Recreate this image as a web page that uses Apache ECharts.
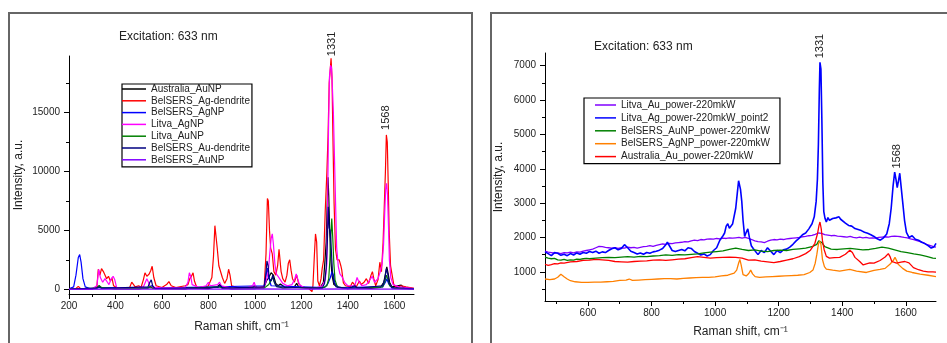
<!DOCTYPE html>
<html><head><meta charset="utf-8">
<script src="https://cdn.jsdelivr.net/npm/echarts@6/dist/echarts.min.js"></script>
<style>html,body{margin:0;padding:0;background:#fff}#c{width:947px;height:343px}</style>
</head><body><div id="c"></div>
<script>
// ---------- LEFT PANEL DATA ----------
const leftNames = ['Australia_AuNP','BelSERS_Ag-dendrite','BelSERS_AgNP','Litva_AgNP','Litva_AuNP','BelSERS_Au-dendrite','BelSERS_AuNP'];
const leftColors = ['#000000','#ff0000','#0000ff','#ff00ff','#008000','#000080','#8000ff'];
const ausAuNP = [[200,30],[300,20],[320,150],[330,300],[340,100],[400,50],[500,40],[550,150],[600,50],[700,40],[720,100],[800,60],[840,250],[850,400],[860,150],[900,40],[1000,50],[1040,200],[1050,700],[1060,1000],[1070,1400],[1080,1200],[1090,500],[1100,300],[1110,450],[1130,150],[1170,200],[1180,500],[1190,150],[1250,60],[1280,100],[1295,600],[1302,2500],[1307,4000],[1311,7000],[1315,9500],[1318,8000],[1322,5000],[1327,2500],[1332,1200],[1340,400],[1360,150],[1400,80],[1430,200],[1450,100],[1500,80],[1540,150],[1555,600],[1562,1300],[1568,1900],[1574,1300],[1580,600],[1590,200],[1630,350],[1640,150],[1685,60]];
const belAgDendrite = [[200,50],[230,80],[240,250],[250,60],[300,50],[320,200],[326,1700],[333,1200],[340,1750],[348,1500],[355,1600],[362,900],[370,1100],[378,700],[385,950],[392,300],[410,80],[460,100],[470,600],[478,500],[485,200],[500,300],[510,150],[520,800],[527,1400],[535,1100],[545,1300],[552,1600],[558,1950],[565,1000],[575,300],[600,150],[620,400],[630,650],[640,300],[660,150],[700,300],[712,400],[720,900],[727,1100],[734,1400],[740,700],[750,150],[790,200],[800,300],[815,1000],[822,2800],[828,5400],[833,5300],[838,3500],[845,2000],[852,1900],[860,1000],[870,500],[880,900],[887,1700],[893,1200],[900,300],[930,100],[990,150],[1000,300],[1010,100],[1040,200],[1048,3000],[1054,7700],[1058,7500],[1063,5000],[1068,3500],[1075,3000],[1082,1500],[1090,1200],[1098,2000],[1104,3400],[1108,3300],[1113,1500],[1120,900],[1130,600],[1138,1200],[1144,2200],[1150,2500],[1156,1600],[1162,900],[1170,600],[1180,1200],[1188,500],[1200,200],[1230,100],[1246,-200],[1250,300],[1256,2800],[1261,4700],[1266,4000],[1271,700],[1278,300],[1285,900],[1290,1800],[1296,2500],[1303,6700],[1310,9900],[1315,13000],[1320,17500],[1324,18500],[1328,19600],[1332,18000],[1336,13000],[1341,7300],[1347,3400],[1354,2500],[1363,2500],[1370,2000],[1374,1650],[1381,550],[1390,300],[1410,200],[1420,600],[1428,500],[1436,200],[1450,700],[1458,400],[1470,600],[1480,900],[1490,500],[1500,1200],[1506,1500],[1512,900],[1520,300],[1530,800],[1538,2300],[1545,1500],[1552,4000],[1557,7000],[1562,10000],[1566,13100],[1570,12500],[1574,9000],[1578,5000],[1584,2000],[1590,1300],[1598,400],[1610,150],[1630,300],[1650,200],[1685,80]];
const belAgNP = [[200,50],[220,200],[230,1200],[240,2700],[246,2950],[252,2300],[260,900],[270,200],[290,60],[330,150],[540,100],[555,300],[565,100],[1040,300],[1048,1200],[1054,1800],[1060,1000],[1070,300],[1300,150],[1315,500],[1325,1000],[1332,1500],[1338,1200],[1345,500],[1360,150],[1550,200],[1562,600],[1568,900],[1575,500],[1590,100],[1685,40]];
const litvaAgNP = [[200,30],[300,40],[320,300],[328,1700],[335,1000],[345,600],[355,900],[362,700],[372,400],[382,900],[390,1100],[397,800],[405,150],[450,60],[520,200],[535,900],[542,600],[550,200],[600,100],[700,150],[712,600],[718,1400],[724,1100],[730,400],[760,150],[790,300],[800,600],[808,300],[840,400],[848,600],[856,300],[900,100],[960,80],[990,300],[997,600],[1004,150],[1040,200],[1050,800],[1058,1500],[1064,3000],[1070,4300],[1075,4700],[1080,3800],[1086,2200],[1092,1300],[1100,1100],[1110,800],[1120,500],[1140,300],[1160,400],[1172,900],[1178,1300],[1184,900],[1192,400],[1210,150],[1260,100],[1290,300],[1303,800],[1310,2200],[1317,13500],[1321,18000],[1326,19000],[1330,18800],[1334,17000],[1338,15000],[1345,9300],[1352,3600],[1359,1950],[1366,1300],[1374,1100],[1388,540],[1400,300],[1430,300],[1440,1000],[1446,700],[1460,300],[1480,400],[1495,800],[1505,1100],[1515,600],[1530,900],[1540,1500],[1548,2200],[1554,3800],[1559,6500],[1563,8500],[1567,9000],[1571,8000],[1575,5500],[1579,2500],[1585,1000],[1595,400],[1620,200],[1650,150],[1685,50]];
const litvaAuNP = [[200,20],[320,100],[330,300],[340,150],[400,40],[540,100],[550,250],[560,80],[700,50],[720,100],[850,200],[860,80],[1040,100],[1060,400],[1070,800],[1076,1000],[1082,700],[1090,300],[1120,100],[1180,150],[1290,100],[1310,300],[1318,900],[1323,2500],[1327,4500],[1331,6000],[1335,4500],[1340,2200],[1345,800],[1355,200],[1400,60],[1550,200],[1560,700],[1566,1200],[1572,900],[1580,300],[1600,80],[1685,30]];
const belAuDendrite = [[200,20],[320,100],[330,200],[340,80],[540,200],[548,600],[554,800],[560,300],[570,60],[840,150],[850,350],[860,100],[1040,200],[1047,1200],[1052,2400],[1057,2000],[1062,900],[1070,700],[1077,1200],[1084,600],[1095,200],[1180,150],[1290,100],[1300,500],[1307,1800],[1312,4000],[1316,7000],[1320,5200],[1324,5000],[1328,3800],[1334,1500],[1340,600],[1350,200],[1400,60],[1430,300],[1440,100],[1550,300],[1560,900],[1566,1750],[1572,1300],[1578,500],[1590,150],[1685,30]];
const belAuNP = [[200,0],[400,20],[600,10],[800,20],[1000,30],[1200,20],[1400,30],[1600,20],[1685,20]];
const leftData = [ausAuNP, belAgDendrite, belAgNP, litvaAgNP, litvaAuNP, belAuDendrite, belAuNP];

// ---------- RIGHT PANEL DATA ----------
const rightNames = ['Litva_Au_power-220mkW','Litva_Ag_power-220mkW_point2','BelSERS_AuNP_power-220mkW','BelSERS_AgNP_power-220mkW','Australia_Au_power-220mkW'];
const rightColors = ['#8000ff','#0000ff','#008000','#ff8000','#ff0000'];
const litvaAuPow = [[465,1600],[475,1570],[485,1560],[495,1540],[505,1550],[515,1530],[525,1560],[535,1550],[545,1570],[555,1550],[565,1580],[575,1570],[585,1600],[595,1620],[605,1640],[615,1660],[625,1700],[635,1740],[645,1730],[655,1710],[665,1700],[675,1690],[685,1700],[695,1680],[705,1700],[715,1690],[725,1720],[735,1700],[745,1710],[755,1690],[765,1710],[775,1730],[785,1740],[795,1760],[805,1740],[815,1770],[825,1790],[835,1810],[845,1800],[855,1830],[865,1820],[875,1840],[885,1850],[895,1860],[905,1880],[915,1870],[925,1900],[935,1920],[945,1910],[955,1940],[965,1930],[975,1950],[985,1960],[995,1950],[1005,1970],[1015,1960],[1025,1980],[1035,1970],[1045,1990],[1055,1980],[1065,1990],[1075,2000],[1085,1980],[1095,2000],[1105,1970],[1115,1940],[1125,1900],[1135,1880],[1145,1870],[1155,1850],[1165,1890],[1175,1920],[1185,1940],[1195,1930],[1205,1950],[1215,1940],[1225,1960],[1235,1970],[1245,1980],[1255,1990],[1265,2000],[1275,2020],[1285,2030],[1295,2050],[1305,2060],[1315,2090],[1325,2130],[1330,2170],[1335,2120],[1345,2080],[1355,2070],[1365,2050],[1375,2060],[1385,2040],[1395,2030],[1405,2020],[1415,2010],[1425,2030],[1435,2000],[1445,1990],[1455,2010],[1465,1990],[1475,2000],[1485,1980],[1495,1990],[1505,1980],[1515,2000],[1525,2010],[1535,2020],[1545,2010],[1555,2030],[1565,2040],[1575,2030],[1585,2020],[1595,2000],[1605,1990],[1615,1960],[1625,1940],[1635,1910],[1645,1880],[1655,1850],[1665,1800],[1675,1770],[1685,1740],[1695,1720]];
const litvaAgPow = [[465,1580],[475,1530],[485,1470],[495,1560],[505,1540],[515,1480],[525,1510],[535,1470],[545,1530],[555,1490],[565,1550],[575,1510],[585,1560],[595,1540],[605,1590],[615,1560],[625,1600],[635,1540],[645,1580],[655,1560],[665,1620],[675,1670],[685,1700],[695,1640],[705,1680],[715,1790],[720,1820],[725,1700],[735,1600],[745,1560],[755,1520],[765,1550],[775,1510],[785,1560],[795,1540],[805,1580],[815,1600],[825,1630],[835,1680],[845,1790],[850,1860],[855,1780],[865,1620],[875,1590],[885,1620],[895,1650],[905,1610],[915,1700],[925,1680],[935,1590],[945,1540],[955,1490],[965,1520],[975,1460],[985,1500],[995,1620],[1005,1700],[1015,1920],[1025,2050],[1030,2130],[1035,2330],[1040,2400],[1045,2270],[1050,2260],[1055,2390],[1060,2430],[1065,2850],[1070,3300],[1074,3650],[1077,3700],[1080,3400],[1084,3050],[1088,2500],[1093,2030],[1098,2150],[1103,2250],[1108,2000],[1114,1760],[1120,1680],[1125,1640],[1135,1500],[1145,1620],[1155,1560],[1165,1700],[1175,1600],[1185,1500],[1195,1620],[1205,1560],[1215,1640],[1225,1660],[1235,1720],[1245,1800],[1255,1900],[1265,1980],[1275,2080],[1285,2130],[1295,2250],[1305,2400],[1312,2600],[1318,3050],[1322,3700],[1325,4700],[1328,6300],[1330,7100],[1333,6900],[1336,5400],[1339,3600],[1342,2750],[1346,2550],[1350,2450],[1355,2580],[1360,2500],[1365,2460],[1370,2550],[1375,2500],[1380,2570],[1385,2520],[1390,2600],[1395,2530],[1400,2480],[1410,2420],[1420,2350],[1430,2330],[1440,2260],[1450,2230],[1460,2200],[1470,2150],[1480,2120],[1490,2080],[1500,2030],[1510,1960],[1520,1920],[1530,1990],[1540,2100],[1548,2400],[1554,2850],[1560,3500],[1565,3900],[1569,3700],[1573,3450],[1577,3650],[1581,3870],[1585,3500],[1590,3050],[1596,2500],[1602,2150],[1610,2000],[1620,2050],[1630,1950],[1640,1920],[1650,1860],[1660,1820],[1670,1760],[1680,1690],[1688,1720],[1695,1830]];
const belAuNPPow = [[465,1430],[475,1400],[485,1380],[495,1390],[505,1350],[515,1340],[525,1360],[535,1330],[545,1350],[555,1340],[565,1370],[575,1360],[585,1380],[595,1390],[605,1380],[625,1400],[645,1410],[665,1420],[685,1410],[705,1430],[725,1440],[745,1430],[765,1450],[785,1440],[805,1460],[825,1470],[845,1490],[865,1480],[885,1500],[905,1490],[925,1510],[945,1520],[965,1550],[985,1570],[1005,1590],[1025,1610],[1045,1650],[1065,1690],[1085,1650],[1105,1620],[1125,1640],[1145,1600],[1165,1590],[1185,1620],[1205,1630],[1225,1620],[1245,1650],[1265,1670],[1285,1690],[1305,1730],[1320,1800],[1326,1900],[1331,1950],[1336,1850],[1345,1730],[1365,1660],[1385,1650],[1405,1670],[1425,1680],[1445,1660],[1465,1640],[1485,1650],[1505,1680],[1525,1720],[1545,1690],[1565,1640],[1585,1590],[1605,1560],[1625,1520],[1645,1490],[1665,1450],[1685,1400],[1695,1390]];
const belAgNPPow = [[465,790],[480,770],[495,790],[505,840],[515,930],[520,940],[526,850],[535,790],[545,740],[560,710],[580,690],[600,690],[620,700],[640,700],[660,710],[680,720],[700,750],[720,760],[730,790],[740,750],[760,760],[780,770],[800,780],[820,790],[840,800],[860,800],[880,790],[900,810],[920,820],[940,830],[960,840],[980,840],[1000,850],[1020,880],[1040,900],[1060,960],[1068,1050],[1074,1250],[1078,1360],[1082,1200],[1088,920],[1098,880],[1106,950],[1112,1050],[1118,940],[1126,860],[1140,840],[1160,850],[1180,860],[1200,870],[1220,880],[1240,890],[1260,900],[1280,920],[1298,980],[1308,1050],[1315,1250],[1320,1500],[1325,1800],[1329,1900],[1333,1800],[1338,1350],[1344,1150],[1350,1080],[1370,1050],[1392,1020],[1410,1050],[1424,1070],[1445,1020],[1476,980],[1500,1040],[1519,1070],[1535,1100],[1550,1220],[1560,1320],[1566,1420],[1571,1330],[1576,1220],[1590,1100],[1603,1020],[1620,980],[1645,930],[1670,900],[1695,860]];
const ausAuPow = [[465,1220],[475,1190],[485,1210],[495,1240],[505,1230],[515,1260],[525,1250],[545,1290],[565,1300],[585,1330],[605,1340],[625,1360],[645,1350],[665,1330],[685,1300],[705,1290],[725,1280],[745,1300],[765,1310],[785,1320],[805,1340],[825,1350],[845,1330],[865,1350],[885,1370],[905,1380],[925,1410],[945,1440],[965,1420],[985,1400],[1005,1410],[1025,1420],[1045,1430],[1065,1420],[1085,1400],[1105,1340],[1125,1350],[1145,1310],[1165,1290],[1185,1270],[1205,1300],[1225,1340],[1245,1380],[1265,1440],[1285,1530],[1300,1630],[1314,1830],[1322,2100],[1327,2350],[1330,2450],[1334,2250],[1338,1900],[1343,1650],[1350,1450],[1360,1400],[1375,1410],[1392,1420],[1410,1510],[1424,1630],[1432,1560],[1440,1420],[1455,1300],[1466,1200],[1476,1230],[1487,1260],[1500,1250],[1519,1330],[1535,1430],[1545,1530],[1550,1450],[1556,1300],[1571,1250],[1585,1280],[1597,1300],[1610,1260],[1624,1120],[1640,1060],[1655,1020],[1670,1000],[1685,1000],[1695,990]];
const rightData = [litvaAuPow, litvaAgPow, belAuNPPow, belAgNPPow, ausAuPow];

// ---------- AXES / TICKS / ANNOTATIONS ----------
const leftXTicks = [200,400,600,800,1000,1200,1400,1600];
const leftXMinor = [300,500,700,900,1100,1300,1500];
const leftYTicks = [0,5000,10000,15000];
const leftYMinor = [2500,7500,12500,17500];
const rightXTicks = [600,800,1000,1200,1400,1600];
const rightXMinor = [500,700,900,1100,1300,1500];
const rightYTicks = [1000,2000,3000,4000,5000,6000,7000];
const rightYMinor = [500,1500,2500,3500,4500,5500,6500];
const peakNotes = [ // [panel, label, x, y-anchor]
  [0,'1331',1331,19700],[0,'1568',1566,13100],
  [1,'1331',1331,7130],[1,'1568',1571,3920]];
const peakOffsets = [1,5,3,3];

const FONT = '"Liberation Sans", Arial, sans-serif';
const TXT = '#222';
const plain = v => String(v);

function xAx(g,min,max,ticks,name,gap){return {type:'value',gridIndex:g,min,max,position:'bottom',
  name,nameLocation:'middle',nameGap:gap,nameTextStyle:{fontSize:12,color:TXT,fontFamily:FONT},
  axisLine:{show:true,onZero:false,lineStyle:{color:'#000',width:1}},
  axisTick:{show:true,length:5,customValues:ticks,lineStyle:{color:'#000',width:1}},
  axisLabel:{show:true,customValues:ticks,formatter:plain,margin:7,fontSize:10,color:TXT,fontFamily:FONT},
  splitLine:{show:false}};}
function yAx(g,min,max,ticks,name,gap){return {type:'value',gridIndex:g,min,max,position:'left',
  name,nameLocation:'middle',nameGap:gap,nameRotate:90,nameTextStyle:{fontSize:12,color:TXT,fontFamily:FONT},
  axisLine:{show:true,onZero:false,lineStyle:{color:'#000',width:1}},
  axisTick:{show:true,length:5,customValues:ticks,lineStyle:{color:'#000',width:1}},
  axisLabel:{show:true,customValues:ticks,formatter:plain,margin:9,fontSize:10,color:TXT,fontFamily:FONT},
  splitLine:{show:false}};}
function minAx(g,min,max,ticks,pos){return {type:'value',gridIndex:g,min,max,position:pos,
  axisLine:{show:false,onZero:false},axisTick:{show:true,length:3,customValues:ticks,lineStyle:{color:'#000',width:1}},
  axisLabel:{show:false},splitLine:{show:false}};}

const series = [];
leftData.forEach((d,i)=>series.push({name:leftNames[i],type:'line',xAxisIndex:0,yAxisIndex:0,data:d,
  symbol:'none',lineStyle:{width:1.2,color:leftColors[i]},itemStyle:{color:leftColors[i]},animation:false}));
rightData.forEach((d,i)=>series.push({name:rightNames[i],type:'line',xAxisIndex:2,yAxisIndex:2,data:d,
  symbol:'none',lineStyle:{width:i===1?1.6:1.3,color:rightColors[i]},itemStyle:{color:rightColors[i]},animation:false}));

const chart = echarts.init(document.getElementById('c'),null,{renderer:'canvas'});
chart.setOption({
  animation:false,
  backgroundColor:'#fff',
  grid:[{left:69,top:56,width:345,height:238},{left:545,top:53,width:391,height:248}],
  xAxis:[xAx(0,200,1685,leftXTicks,'Raman shift, cm⁻¹',27),minAx(0,200,1685,leftXMinor,'bottom'),
         xAx(1,465,1695,rightXTicks,'Raman shift, cm⁻¹',25),minAx(1,465,1695,rightXMinor,'bottom')],
  yAxis:[yAx(0,-400,19800,leftYTicks,'Intensity, a.u.',44),minAx(0,-400,19800,leftYMinor,'left'),
         yAx(1,150,7370,rightYTicks,'Intensity, a.u.',40),minAx(1,150,7370,rightYMinor,'left')],
  legend:[
    {data:leftNames,left:122,top:84,orient:'vertical',icon:'rect',itemWidth:24,itemHeight:1.5,itemGap:1.8,
     padding:[0,2,2,0],borderColor:'#000',borderWidth:1.2,selectedMode:false,
     textStyle:{fontSize:10,lineHeight:10,color:TXT,fontFamily:FONT}},
    {data:rightNames,left:584,top:98,orient:'vertical',icon:'rect',itemWidth:21,itemHeight:1.5,itemGap:2.9,
     padding:[2,10,2,11],borderColor:'#000',borderWidth:1.2,selectedMode:false,
     textStyle:{fontSize:10,lineHeight:10,color:TXT,fontFamily:FONT}}],
  series
});

const gfx = [
  {type:'rect',silent:true,shape:{x:9,y:13,width:463,height:345},style:{fill:'none',stroke:'#666',lineWidth:2}},
  {type:'rect',silent:true,shape:{x:491,y:13,width:470,height:345},style:{fill:'none',stroke:'#666',lineWidth:2}},
  {type:'text',silent:true,x:119,y:37,style:{text:'Excitation: 633 nm',fontSize:12,fontFamily:FONT,fill:TXT,textVerticalAlign:'middle',verticalAlign:'middle'}},
  {type:'text',silent:true,x:594,y:47,style:{text:'Excitation: 633 nm',fontSize:12,fontFamily:FONT,fill:TXT,textVerticalAlign:'middle',verticalAlign:'middle'}}
];
peakNotes.forEach((p,i)=>{
  const idx = p[0]===0 ? 0 : 2;
  const pt = chart.convertToPixel({xAxisIndex:idx,yAxisIndex:idx},[p[2],p[3]]);
  gfx.push({type:'text',silent:true,x:pt[0],y:pt[1]-peakOffsets[i],rotation:Math.PI/2,
    style:{text:p[1],fontSize:11,fontFamily:FONT,fill:TXT,textAlign:'left',align:'left',textVerticalAlign:'middle',verticalAlign:'middle'}});
});
chart.setOption({graphic:gfx});
</script>
</body></html>
